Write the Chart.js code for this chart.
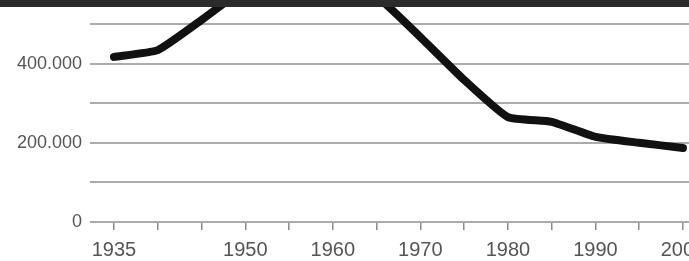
<!DOCTYPE html>
<html>
<head>
<meta charset="utf-8">
<script src="https://cdn.jsdelivr.net/npm/chart.js@4.4.1/dist/chart.umd.min.js"></script>
<style>
  html, body { margin: 0; padding: 0; background: #ffffff; }
  #wrap { width: 689px; height: 261px; position: relative; }
</style>
</head>
<body>
<div id="wrap"><canvas id="c" width="689" height="261"></canvas></div>
<script>
// Data (values above the crop are estimates)
const years  = [1935, 1940, 1945, 1950, 1955, 1960, 1965, 1970, 1975, 1980, 1985, 1990, 1995, 2000];
const values = [417000, 434000, 510000, 590000, 620000, 620000, 570000, 467000, 359000, 265000, 253000, 215000, 200000, 187000];
const labeledYears = [1935, 1950, 1960, 1970, 1980, 1990, 2000];
const gridValues = [0, 100000, 200000, 300000, 400000, 500000];
const labeledValues = [0, 200000, 400000];

const topBar = {
  id: 'topBar',
  afterDraw(chart) {
    const ctx = chart.ctx;
    ctx.save();
    ctx.fillStyle = '#2b2b2b';
    ctx.fillRect(0, 0, chart.width, 7);
    ctx.restore();
  }
};

function fmt(v) {
  return String(v).replace(/\B(?=(\d{3})+(?!\d))/g, '.');
}

new Chart(document.getElementById('c'), {
  type: 'line',
  data: {
    datasets: [{
      data: years.map((y, i) => ({ x: y, y: values[i] })),
      borderColor: '#111111',
      borderWidth: 8,
      borderJoinStyle: 'round',
      borderCapStyle: 'round',
      pointRadius: 0,
      tension: 0.15,
      fill: false
    }]
  },
  options: {
    responsive: false,
    animation: false,
    layout: { padding: 0 },
    plugins: { legend: { display: false }, tooltip: { enabled: false } },
    scales: {
      x: {
        type: 'linear',
        min: 1932.26,
        max: 2000.69,
        afterBuildTicks(scale) {
          const t = [];
          for (let y = 1935; y <= 2000; y += 5) t.push({ value: y });
          scale.ticks = t;
        },
        afterFit(scale) {
          scale.height = 39;
          scale.paddingLeft = 0;
          scale.paddingRight = 0;
        },
        border: { display: false },
        grid: {
          drawOnChartArea: false,
          drawTicks: true,
          tickLength: 8,
          color: '#8a8a8a',
          lineWidth: 1.5
        },
        ticks: {
          autoSkip: false,
          maxRotation: 0,
          padding: 8,
          color: '#555555',
          font: { family: "'Liberation Sans', Arial, sans-serif", size: 20 },
          callback: (v) => labeledYears.includes(v) ? String(v) : ''
        }
      },
      y: {
        min: 0,
        max: 560600,
        afterBuildTicks(scale) {
          scale.ticks = gridValues.map(v => ({ value: v }));
        },
        afterFit(scale) {
          scale.width = 90;
          scale.paddingTop = 0;
          scale.paddingBottom = 0;
        },
        border: { display: false },
        grid: {
          drawTicks: false,
          color: '#ababab',
          lineWidth: 2
        },
        ticks: {
          autoSkip: false,
          padding: 8,
          color: '#555555',
          font: { family: "'Liberation Sans', Arial, sans-serif", size: 18 },
          callback: (v) => labeledValues.includes(v) ? fmt(v) : ''
        }
      }
    }
  },
  plugins: [topBar]
});
</script>
</body>
</html>
